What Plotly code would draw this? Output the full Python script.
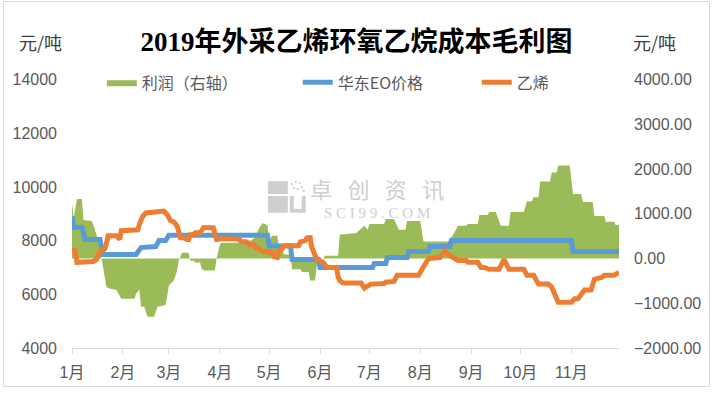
import plotly.graph_objects as go

# ---------------- data ----------------
month_ticks = ["2019-01-01", "2019-02-01", "2019-03-01", "2019-04-01", "2019-05-01", "2019-06-01",
               "2019-07-01", "2019-08-01", "2019-09-01", "2019-10-01", "2019-11-01"]
month_labels = ["1月", "2月", "3月", "4月", "5月", "6月", "7月", "8月", "9月", "10月", "11月"]

profit_dates = ["2019-01-01", "2019-01-02", "2019-01-04", "2019-01-07", "2019-01-08", "2019-01-13", "2019-01-14",
                "2019-01-17", "2019-01-19", "2019-01-20", "2019-01-22", "2019-01-25", "2019-01-28", "2019-01-31",
                "2019-02-08", "2019-02-09", "2019-02-11", "2019-02-12", "2019-02-14", "2019-02-16", "2019-02-20",
                "2019-02-22", "2019-02-27", "2019-03-01", "2019-03-04", "2019-03-06", "2019-03-07", "2019-03-09",
                "2019-03-13", "2019-03-14", "2019-03-16", "2019-03-17", "2019-03-20", "2019-03-21", "2019-03-23",
                "2019-03-29", "2019-03-30", "2019-04-01", "2019-04-02", "2019-04-13", "2019-04-14", "2019-04-20",
                "2019-04-22", "2019-04-25", "2019-04-27", "2019-04-30", "2019-05-01", "2019-05-03", "2019-05-06",
                "2019-05-07", "2019-05-09", "2019-05-10", "2019-05-14", "2019-05-15", "2019-05-20", "2019-05-21",
                "2019-05-25", "2019-05-26", "2019-05-29", "2019-05-30", "2019-05-31", "2019-06-03", "2019-06-04",
                "2019-06-12", "2019-06-13", "2019-06-23", "2019-06-28", "2019-06-30", "2019-07-01", "2019-07-10",
                "2019-07-11", "2019-07-16", "2019-07-19", "2019-07-23", "2019-07-24", "2019-08-01", "2019-08-03",
                "2019-08-18", "2019-08-21", "2019-08-24", "2019-08-29", "2019-08-30", "2019-09-05", "2019-09-06",
                "2019-09-11", "2019-09-12", "2019-09-16", "2019-09-19", "2019-09-24", "2019-09-25", "2019-10-03",
                "2019-10-05", "2019-10-08", "2019-10-09", "2019-10-12", "2019-10-13", "2019-10-19", "2019-10-20",
                "2019-10-23", "2019-10-24", "2019-10-31", "2019-11-02", "2019-11-07", "2019-11-08", "2019-11-14",
                "2019-11-15", "2019-11-21", "2019-11-22", "2019-11-27", "2019-11-28", "2019-11-30"]
profit_values = [1240, 900, 1330, 1330, 860, 840, 750,
                 400, 0, -200, -640, -680, -700, -900,
                 -900, -790, -700, -1080, -1080, -1300, -1300,
                 -1080, -1040, -600, -490, -270, -50, 130,
                 130, -50, -50, -90, -90, -240, -270,
                 -270, 0, 300, 350, 350, 400, 400,
                 460, 680, 790, 750, 400, 510, 510,
                 240, 240, 90, 90, -240, -240, -300,
                 -300, -490, -490, -150, 0, 0, 60,
                 60, 530, 570, 730, 640, 770, 770,
                 880, 880, 640, 640, 840, 840, 380,
                 380, 530, 730, 730, 770, 770, 970,
                 970, 1040, 1040, 730, 730, 1040, 1040,
                 1280, 1280, 1370, 1370, 1720, 1720, 1920,
                 1920, 2080, 2080, 1440, 1440, 1260, 1260,
                 950, 950, 820, 820, 750, 750]

eo_dates = ["2019-01-01", "2019-01-02", "2019-01-07", "2019-01-09", "2019-01-18", "2019-01-20", "2019-02-09",
            "2019-02-12", "2019-02-21", "2019-02-23", "2019-02-27", "2019-03-01", "2019-04-30", "2019-05-01",
            "2019-05-14", "2019-05-15", "2019-05-31", "2019-06-01", "2019-07-03", "2019-07-04", "2019-07-11",
            "2019-07-12", "2019-07-24", "2019-07-25", "2019-08-06", "2019-08-07", "2019-08-19", "2019-08-20",
            "2019-11-01", "2019-11-02", "2019-11-30"]
eo_values = [8900, 8500, 8500, 8040, 8040, 7480, 7480,
             7740, 7780, 8000, 8000, 8200, 8200, 7800,
             7800, 7300, 7300, 7000, 7000, 7150, 7150,
             7370, 7370, 7590, 7590, 7780, 7780, 8000,
             8000, 7590, 7590]

eth_dates = ["2019-01-01", "2019-01-03", "2019-01-04", "2019-01-14", "2019-01-16", "2019-01-17", "2019-01-19",
             "2019-01-21", "2019-01-22", "2019-01-23", "2019-01-28", "2019-01-30", "2019-01-31", "2019-02-10",
             "2019-02-11", "2019-02-13", "2019-02-15", "2019-02-20", "2019-02-26", "2019-02-28", "2019-03-02",
             "2019-03-04", "2019-03-06", "2019-03-08", "2019-03-10", "2019-03-12", "2019-03-13", "2019-03-14",
             "2019-03-16", "2019-03-17", "2019-03-20", "2019-03-22", "2019-03-28", "2019-03-30", "2019-04-02",
             "2019-04-10", "2019-04-13", "2019-04-14", "2019-04-17", "2019-04-19", "2019-04-22", "2019-04-23",
             "2019-04-25", "2019-04-27", "2019-05-03", "2019-05-04", "2019-05-06", "2019-05-07", "2019-05-09",
             "2019-05-10", "2019-05-19", "2019-05-20", "2019-05-23", "2019-05-24", "2019-05-26", "2019-05-27",
             "2019-05-30", "2019-06-01", "2019-06-03", "2019-06-05", "2019-06-11", "2019-06-12", "2019-06-13",
             "2019-06-15", "2019-06-26", "2019-06-28", "2019-06-30", "2019-07-02", "2019-07-10", "2019-07-11",
             "2019-07-16", "2019-07-18", "2019-07-31", "2019-08-01", "2019-08-03", "2019-08-06", "2019-08-13",
             "2019-08-16", "2019-08-18", "2019-08-20", "2019-08-24", "2019-08-29", "2019-08-30", "2019-09-05",
             "2019-09-07", "2019-09-09", "2019-09-12", "2019-09-18", "2019-09-21", "2019-09-24", "2019-10-03",
             "2019-10-05", "2019-10-09", "2019-10-12", "2019-10-18", "2019-10-20", "2019-10-22", "2019-10-24",
             "2019-11-01", "2019-11-03", "2019-11-05", "2019-11-07", "2019-11-09", "2019-11-13", "2019-11-15",
             "2019-11-20", "2019-11-21", "2019-11-27", "2019-11-29", "2019-11-30"]
eth_values = [7630, 7630, 7190, 7220, 7300, 7500, 7670,
              7700, 7900, 8180, 8180, 8050, 8370, 8400,
              8600, 8900, 9030, 9080, 9100, 8960, 8740,
              8700, 8550, 8110, 8110, 8040, 8040, 8220,
              8220, 8290, 8290, 8480, 8480, 8040, 8070,
              8070, 8040, 7960, 7960, 7850, 7850, 7740,
              7700, 7600, 7560, 7400, 7370, 7630, 7700,
              7810, 7810, 7950, 8000, 8100, 8110, 7740,
              7300, 7250, 7190, 7000, 7000, 6650, 6520,
              6420, 6420, 6230, 6330, 6380, 6400, 6450,
              6480, 6710, 6710, 6800, 7000, 7330, 7370,
              7630, 7480, 7410, 7260, 7260, 7190, 7190,
              7000, 7000, 6930, 6930, 7300, 6930, 6930,
              6710, 6710, 6380, 6380, 6270, 6010, 5700,
              5700, 5830, 5830, 6010, 6160, 6160, 6560,
              6640, 6710, 6710, 6780, 6820]

left_ticks = [4000, 6000, 8000, 10000, 12000, 14000]
right_ticks = [-2000, -1000, 0, 1000, 2000, 3000, 4000]

# ---------------- figure ----------------
W, H = 713, 393
L, R, T, B = 70, 93, 40, 41
PLOT_TOP = 80                      # pixel row of the top of the plotting area
pw, ph = W - L - R, H - T - B      # paper size in pixels
dom_top = (H - B - PLOT_TOP) / ph


def px(xp):
    return (xp - L) / pw


def py(yp):
    return (H - B - yp) / ph


CJK = "Noto Sans CJK SC"
NUM = "Liberation Sans, Noto Sans CJK SC"
GRAY = "#595959"

fig = go.Figure()
fig.add_trace(go.Scatter(x=profit_dates, y=profit_values, name="利润（右轴）", mode="lines",
                         line=dict(width=0, color="#9BBB59"), fill="tozeroy", fillcolor="#9BBB59",
                         yaxis="y", legend="legend"))
fig.add_trace(go.Scatter(x=eo_dates, y=eo_values, name="华东EO价格", mode="lines",
                         line=dict(width=5, color="#5B9BD5"), yaxis="y2", legend="legend2"))
fig.add_trace(go.Scatter(x=eth_dates, y=eth_values, name="乙烯", mode="lines",
                         line=dict(width=5, color="#ED7D31"), yaxis="y2", legend="legend3"))

leg_common = dict(orientation="h", yanchor="middle", xanchor="left", y=py(83),
                  font=dict(family=CJK, size=16, color=GRAY), bgcolor="rgba(0,0,0,0)",
                  itemwidth=30)

fig.update_layout(
    width=W, height=H,
    margin=dict(l=L, r=R, t=T, b=B),
    paper_bgcolor="white", plot_bgcolor="white",
    title=dict(text="<b>2019年外采乙烯环氧乙烷成本毛利图</b>", x=0.5, xanchor="center",
               y=1 - 42 / H, yanchor="middle",
               font=dict(family="Liberation Serif, Noto Sans CJK SC", size=27, color="black")),
    xaxis=dict(type="date", range=["2019-01-01", "2019-11-30"], tickvals=month_ticks, ticktext=month_labels,
               showgrid=False, showline=True, linecolor="#d9d9d9", linewidth=1,
               ticks="outside", ticklen=5, tickcolor="#d9d9d9", ticklabelstandoff=5,
               tickfont=dict(family=NUM, size=16, color=GRAY), zeroline=False),
    yaxis=dict(side="right", range=[-2000, 4000], tickvals=right_ticks, tickformat=".2f",
               domain=[0, dom_top],
               showgrid=False, zeroline=False, showline=False, ticks="",
               ticklabelstandoff=14, tickfont=dict(family=NUM, size=16, color=GRAY)),
    yaxis2=dict(side="left", overlaying="y", range=[4000, 14000], tickvals=left_ticks, tickformat="d",
                showgrid=False, zeroline=False, showline=False, ticks="",
                ticklabelstandoff=14, tickfont=dict(family=NUM, size=16, color=GRAY)),
    legend=dict(leg_common, x=px(100)),
    legend2=dict(leg_common, x=px(297)),
    legend3=dict(leg_common, x=px(477)),
    showlegend=True,
)

# unit labels
for xp in (38, 656):
    fig.add_annotation(text="元/吨", xref="paper", yref="paper", x=px(xp), y=py(42),
                       showarrow=False, xanchor="center", yanchor="middle",
                       font=dict(family=CJK, size=18, color="#404040"))

# watermark (one two-line text)
WM = "#cfcfcf"
sp = "\u2002\u2009"
wm_text = ("<span style='font-size:22px'>" + sp.join("卓创资讯") + "</span><br>"
           "<span style='font-family:Liberation Serif;font-size:15px'>" + " ".join("SCI99.COM") + "</span>")
fig.add_annotation(text=wm_text, xref="paper", yref="paper", x=px(377), y=py(199),
                   showarrow=False, xanchor="center", yanchor="middle",
                   font=dict(family=CJK, size=15, color=WM))
for (x0, x1, y0, y1) in [(267, 287, 183, 196), (267, 287, 198, 215), (289, 305, 198, 215)]:
    fig.add_shape(type="rect", xref="paper", yref="paper", x0=px(x0), x1=px(x1), y0=py(y1), y1=py(y0),
                  line=dict(width=0), fillcolor=WM, layer="below")
fig.add_shape(type="rect", xref="paper", yref="paper", x0=px(293), x1=px(301), y0=py(211), y1=py(197),
              line=dict(width=0), fillcolor="white", layer="below")
for (cx, cy) in [(291, 186), (295, 184), (299, 185), (293, 190), (297, 191), (301, 189), (303, 193)]:
    fig.add_shape(type="rect", xref="paper", yref="paper", x0=px(cx - 1), x1=px(cx + 1),
                  y0=py(cy + 1), y1=py(cy - 1), line=dict(width=0), fillcolor=WM, layer="below")

# chart border
fig.add_shape(type="rect", xref="paper", yref="paper", x0=px(1), x1=px(711), y0=py(391), y1=py(1),
              line=dict(width=1, color="#d9d9d9"), fillcolor="rgba(0,0,0,0)")

fig.write_html("out.html", config={"displayModeBar": False},
               post_script="document.body.style.margin='0';")
